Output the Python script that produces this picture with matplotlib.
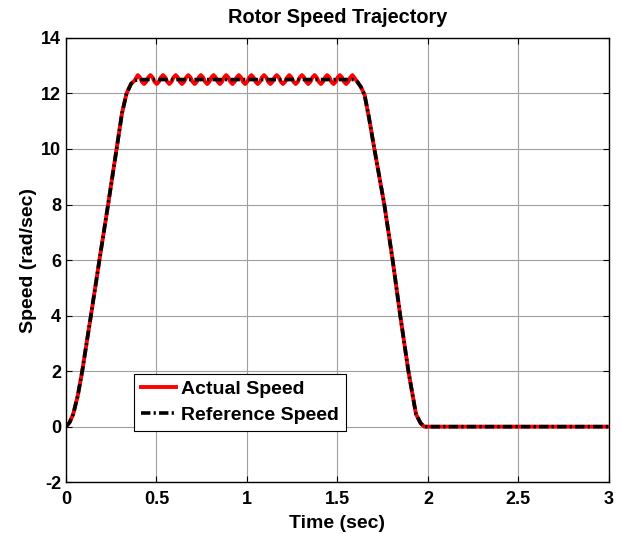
import matplotlib
matplotlib.use('Agg')
import matplotlib.pyplot as plt
import numpy as np

plt.rcParams['font.family'] = ['Liberation Sans', 'DejaVu Sans']
plt.rcParams['font.weight'] = 'bold'
plt.rcParams['font.size'] = 13
plt.rcParams['axes.unicode_minus'] = False

# acceleration part (shared by both curves)
t_rise = [0.0, 0.02, 0.04, 0.065, 0.09, 0.138, 0.185, 0.233, 0.28, 0.31, 0.335, 0.36, 0.38, 0.40]
w_rise = [0.0, 0.15, 0.45, 1.1, 2.0, 4.0, 6.0, 8.0, 10.0, 11.3, 12.0, 12.35, 12.47, 12.5]

# deceleration part + standstill
t_fall = [1.59, 1.61, 1.63, 1.65, 1.675, 1.704, 1.759, 1.805, 1.847, 1.892, 1.934, 1.96, 1.98, 2.0, 3.0]
w_fall = [12.5, 12.42, 12.23, 11.95, 11.1, 10.0, 8.0, 6.0, 4.0, 2.0, 0.45, 0.12, 0.0, 0.0, 0.0]

# actual speed ripple on the constant-speed part
t_ripple_start, t_ripple_end = 0.397, 1.583
w_ripple = [
    12.66, 12.58, 12.42, 12.34, 12.42, 12.58,
    12.66, 12.58, 12.42, 12.34, 12.42, 12.58,
    12.66, 12.58, 12.42, 12.34, 12.42, 12.58,
    12.66, 12.58, 12.42, 12.34, 12.42, 12.58,
    12.66, 12.58, 12.42, 12.34, 12.42, 12.58,
    12.66, 12.58, 12.42, 12.34, 12.42, 12.58,
    12.66, 12.58, 12.42, 12.34, 12.42, 12.58,
    12.66, 12.58, 12.42, 12.34, 12.42, 12.58,
    12.66, 12.58, 12.42, 12.34, 12.42, 12.58,
    12.66, 12.58, 12.42, 12.34, 12.42, 12.58,
    12.66, 12.58, 12.42, 12.34, 12.42, 12.58,
    12.66, 12.58, 12.42, 12.34, 12.42, 12.58,
    12.66, 12.58, 12.42, 12.34, 12.42, 12.58,
    12.66, 12.58, 12.42, 12.34, 12.42, 12.58,
    12.66, 12.58, 12.42, 12.34, 12.42, 12.58,
    12.66, 12.58, 12.42, 12.34, 12.42, 12.58,
    12.66, 12.58, 12.42, 12.34, 12.42, 12.58,
    12.66,
]

x_ticks = [0, 0.5, 1, 1.5, 2, 2.5, 3]
x_labels = ['0', '0.5', '1', '1.5', '2', '2.5', '3']
y_ticks = [-2, 0, 2, 4, 6, 8, 10, 12, 14]

t_ripple = np.linspace(t_ripple_start, t_ripple_end, len(w_ripple))
t_act = np.concatenate([t_rise[:-1], t_ripple, t_fall[1:]])
w_act = np.concatenate([w_rise[:-1], w_ripple, w_fall[1:]])
t_ref = np.concatenate([t_rise, t_fall])
w_ref = np.concatenate([w_rise, w_fall])

fig = plt.figure(figsize=(6.22, 5.34), dpi=100)
ax = fig.add_axes([0.106, 0.097, 0.873, 0.832])

ax.plot(t_act, w_act, color='red', lw=2.8, label='Actual Speed')
ax.plot(t_ref, w_ref, color='black', lw=2.6, dashes=(2.6, 0.9, 0.6, 0.9), label='Reference Speed')

ax.set_xlim(0, 3)
ax.set_ylim(-2, 14)
ax.set_xticks(x_ticks)
ax.set_xticklabels(x_labels)
ax.set_yticks(y_ticks)
ax.grid(True, color='#a0a0a0', lw=0.8)
ax.tick_params(direction='in', top=True, right=True, length=4, width=0.8)
ax.tick_params(axis='x', pad=6.5)
ax.tick_params(axis='y', pad=3.5)
for s in ax.spines.values():
    s.set_linewidth(1.0)

ax.set_title('Rotor Speed Trajectory', fontweight='bold', fontsize=14.4, pad=11)
ax.set_xlabel('Time (sec)', fontweight='bold', fontsize=14, labelpad=5)
ax.set_ylabel('Speed (rad/sec)', fontweight='bold', fontsize=14, labelpad=3)

leg = ax.legend(loc='lower left', bbox_to_anchor=(0.125, 0.115), borderaxespad=0,
                fancybox=False, framealpha=1, edgecolor='black', fontsize=14,
                handlelength=1.8, handletextpad=0.3, labelspacing=0.45, borderpad=0.35)
leg.get_frame().set_linewidth(0.8)

fig.savefig('out.png', dpi=100)
